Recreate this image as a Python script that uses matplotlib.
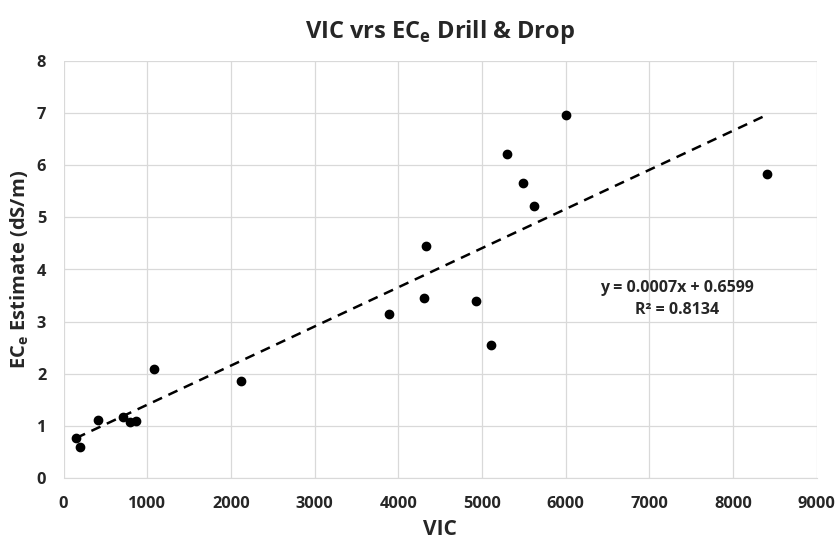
import numpy as np
import matplotlib
matplotlib.use("Agg")
import matplotlib.pyplot as plt

# values
vic = np.array([149, 196, 414, 712, 800, 867, 1081, 2125,
                3885, 4307, 4328, 4926, 5105, 5297, 5495, 5627, 6006, 8407])
ece = np.array([0.76, 0.58, 1.11, 1.17, 1.07, 1.09, 2.08, 1.85,
                3.14, 3.45, 4.45, 3.39, 2.54, 6.22, 5.67, 5.22, 6.97, 5.83])

eq_text = "y = 0.0007x + 0.6599\nR² = 0.8134"

plt.rcParams['font.family'] = ['Open Sans', 'DejaVu Sans']
plt.rcParams['mathtext.fontset'] = 'custom'
plt.rcParams['mathtext.rm'] = 'Open Sans:bold'
plt.rcParams['mathtext.bf'] = 'Open Sans:bold'

fig = plt.figure(figsize=(8.37, 5.39), dpi=100)
ax = fig.add_axes([0.0759, 0.1141, 0.8998, 0.7718])

ax.scatter(vic, ece, s=36, color='black', zorder=3)

# linear trendline over the data range
slope, intercept = np.polyfit(vic, ece, 1)
xs = np.array([vic.min(), vic.max()])
ax.plot(xs, slope * xs + intercept, color='black', lw=1.8,
        dashes=(4, 2.8), zorder=2)

ax.text(7330, 3.44, eq_text, ha='center', va='center', fontsize=11.5,
        fontweight='bold', color='#262626', linespacing=1.5)

ax.set_xlim(0, 9000)
ax.set_ylim(0, 8)
ax.set_xticks(np.arange(0, 9001, 1000))
ax.set_yticks(np.arange(0, 9, 1))
ax.grid(True, color='#d9d9d9', lw=0.9)
ax.set_axisbelow(True)
for side in ['top', 'right', 'left']:
    ax.spines[side].set_visible(False)
ax.spines['bottom'].set_color('#d9d9d9')
ax.tick_params(length=0, labelsize=11.8, labelcolor='#262626')
ax.tick_params(axis='x', pad=13.5)
ax.tick_params(axis='y', pad=12.5)
for lbl in ax.get_xticklabels() + ax.get_yticklabels():
    lbl.set_fontweight('bold')

ax.set_xlabel("VIC", fontsize=15, fontweight='bold', color='#262626', labelpad=4.5)
ax.set_ylabel(r"EC$_\mathrm{e}$ Estimate (dS/m)", fontsize=14.5,
              fontweight='bold', color='#262626', labelpad=4)
ax.set_title(r"VIC vrs EC$_\mathrm{e}$ Drill & Drop", fontsize=17,
             fontweight='bold', color='#262626', pad=17)

fig.savefig("out.png", dpi=100)
